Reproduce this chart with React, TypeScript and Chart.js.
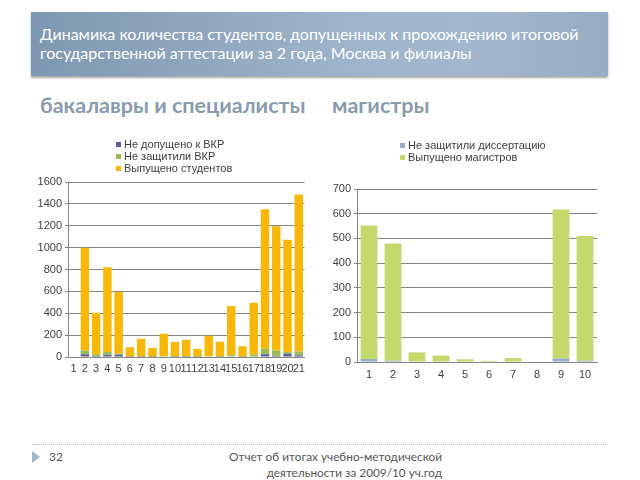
import React, { useEffect, useRef } from "react";
import { Chart, registerables } from "chart.js";

Chart.register(...registerables);

// ---- Data: bachelors & specialists ----
const bachCategories = ["1","2","3","4","5","6","7","8","9","10","11","12","13","14","15","16","17","18","19","20","21"];
const notAdmitted = [0, 25, 10, 20, 20, 3, 3, 3, 5, 3, 3, 3, 5, 3, 5, 3, 5, 25, 10, 30, 15];
const notDefended = [0, 35, 15, 25, 10, 2, 2, 2, 3, 2, 3, 2, 3, 2, 10, 2, 15, 50, 50, 15, 35];
const graduated = [0, 940, 380, 775, 565, 85, 163, 80, 205, 132, 152, 68, 187, 135, 452, 93, 475, 1275, 1135, 1027, 1435];
const bachTicks = [0, 200, 400, 600, 800, 1000, 1200, 1400, 1600];

// ---- Data: masters ----
const mastCategories = ["1","2","3","4","5","6","7","8","9","10"];
const notDefendedDiss = [12, 5, 0, 0, 0, 0, 0, 0, 14, 5];
const mastersGraduated = [540, 474, 39, 26, 11, 5, 16, 0, 603, 505];
const mastTicks = [0, 100, 200, 300, 400, 500, 600, 700];

const LABELS_BACH = ["Не допущено к ВКР", "Не защитили ВКР", "Выпущено студентов"];
const LABELS_MAST = ["Не защитили диссертацию", "Выпущено магистров"];

const TICK_FONT = { family: "'Liberation Sans', Arial, sans-serif", size: 11 };
const GRID = "#858585";

const vLegend = {
  id: "vLegend",
  afterDraw(chart: any, _args: any, opts: any) {
    const ctx = chart.ctx;
    ctx.save();
    ctx.font = opts.font;
    ctx.textBaseline = "middle";
    ctx.textAlign = "left";
    chart.data.datasets.forEach((ds: any, i: number) => {
      const y = opts.y + i * opts.lineHeight;
      ctx.fillStyle = ds.backgroundColor;
      ctx.fillRect(opts.x, Math.round(y - opts.box / 2), opts.box, opts.box);
      ctx.fillStyle = opts.color;
      ctx.fillText(ds.label, opts.x + opts.box + 3, y + 0.5);
    });
    ctx.restore();
  },
};

function makeOptions(opt: any) {
  return {
    responsive: false,
    animation: false,
    devicePixelRatio: 1,
    layout: { padding: opt.padding },
    plugins: {
      legend: { display: false },
      tooltip: { enabled: false },
      vLegend: opt.legend,
    },
    scales: {
      x: {
        stacked: true,
        grid: { display: false, drawTicks: false },
        border: { display: true, color: GRID, width: 1 },
        ticks: { font: TICK_FONT, color: "#404040", padding: opt.xPad, maxRotation: 0, autoSkip: false },
        afterFit: (s: any) => { s.height = 20; },
      },
      y: {
        stacked: true,
        min: 0,
        max: opt.max,
        afterBuildTicks: (s: any) => { s.ticks = opt.ticks.map((v: number) => ({ value: v })); },
        grid: { color: GRID, lineWidth: 1, drawTicks: true, tickLength: 3 },
        border: { display: true, color: GRID, width: 1 },
        ticks: { font: TICK_FONT, color: "#404040", padding: 3, callback: (v: any) => String(v) },
        afterFit: (s: any) => { s.width = opt.yWidth; },
      },
    },
  };
}

function BarChart(props: any) {
  const ref = useRef<HTMLCanvasElement>(null);
  useEffect(() => {
    const chart = new Chart(ref.current as HTMLCanvasElement, {
      type: "bar",
      data: props.data,
      options: props.options as any,
      plugins: [vLegend],
    });
    return () => chart.destroy();
  }, []);
  return (
    <canvas
      ref={ref}
      width={props.w}
      height={props.h}
      style={{ position: "absolute", left: props.x, top: props.y, width: props.w, height: props.h }}
    />
  );
}

export default function App() {
  const bachData = {
    labels: bachCategories,
    datasets: [
      { label: LABELS_BACH[0], data: notAdmitted, backgroundColor: "#5b5f97", barPercentage: 0.75, categoryPercentage: 1 },
      { label: LABELS_BACH[1], data: notDefended, backgroundColor: "#9bbb59", barPercentage: 0.75, categoryPercentage: 1 },
      { label: LABELS_BACH[2], data: graduated, backgroundColor: "#f8b807", barPercentage: 0.75, categoryPercentage: 1 },
    ],
  };
  const mastData = {
    labels: mastCategories,
    datasets: [
      { label: LABELS_MAST[0], data: notDefendedDiss, backgroundColor: "#95abc8", barPercentage: 0.7, categoryPercentage: 1 },
      { label: LABELS_MAST[1], data: mastersGraduated, backgroundColor: "#c5d86b", barPercentage: 0.7, categoryPercentage: 1 },
    ],
  };
  const bachOptions = makeOptions({
    padding: { top: 47, right: 4, bottom: 3, left: 0 },
    max: 1600,
    ticks: bachTicks,
    yWidth: 38,
    xPad: 5,
    legend: { x: 86, y: 9, lineHeight: 12, box: 5, font: "11px 'Liberation Sans', Arial, sans-serif", color: "#404040" },
  });
  const mastOptions = makeOptions({
    padding: { top: 54, right: 13, bottom: 3, left: 0 },
    max: 700,
    ticks: mastTicks,
    yWidth: 37,
    xPad: 6,
    legend: { x: 80, y: 10, lineHeight: 12, box: 5, font: "11px 'Liberation Sans', Arial, sans-serif", color: "#404040" },
  });

  const gill = "Lato, 'Open Sans', sans-serif";
  return (
    <div style={{ position: "fixed", left: 0, top: 0, width: 640, height: 480, background: "#ffffff", overflow: "hidden" }}>
      <div
        style={{
          position: "absolute", left: 31, top: 12, width: 577, height: 64,
          background: "linear-gradient(90deg, #7f97b0 0%, #9eb4ca 55%, #a3b8cd 75%, #97adc3 100%)",
          boxShadow: "0 2px 2px rgba(0,0,0,0.35)",
        }}
      />
      <div style={{ position: "absolute", left: 40, top: 24, color: "#ffffff", fontFamily: gill, fontSize: 16, lineHeight: "19px", whiteSpace: "nowrap" }}>
        Динамика количества студентов, допущенных к прохождению итоговой
        <br />
        государственной аттестации за 2 года, Москва и филиалы
      </div>
      <div style={{ position: "absolute", left: 40, top: 92, color: "#8a9bae", fontFamily: gill, fontWeight: 700, fontSize: 21.5, whiteSpace: "nowrap" }}>
        бакалавры и специалисты
      </div>
      <div style={{ position: "absolute", left: 332, top: 92, color: "#8a9bae", fontFamily: gill, fontWeight: 700, fontSize: 21.5, whiteSpace: "nowrap" }}>
        магистры
      </div>

      <BarChart x={30} y={135} w={280} h={245} data={bachData} options={bachOptions} />
      <BarChart x={320} y={135} w={290} h={250} data={mastData} options={mastOptions} />

      <div style={{ position: "absolute", left: 32, top: 444, width: 576, borderTop: "1px dotted #b8bcc2" }} />
      <div style={{ position: "absolute", left: 32, top: 451, width: 0, height: 0, borderTop: "6px solid transparent", borderBottom: "6px solid transparent", borderLeft: "8px solid #a3b7cb" }} />
      <div style={{ position: "absolute", left: 49, top: 449, color: "#555555", fontFamily: gill, fontSize: 12, lineHeight: "16px" }}>32</div>
      <div style={{ position: "absolute", left: 200, top: 449, width: 242, textAlign: "right", color: "#555555", fontFamily: gill, fontSize: 11.8, lineHeight: "16px", whiteSpace: "nowrap" }}>
        Отчет об итогах учебно-методической
        <br />
        деятельности за 2009/10 уч.год
      </div>
    </div>
  );
}
